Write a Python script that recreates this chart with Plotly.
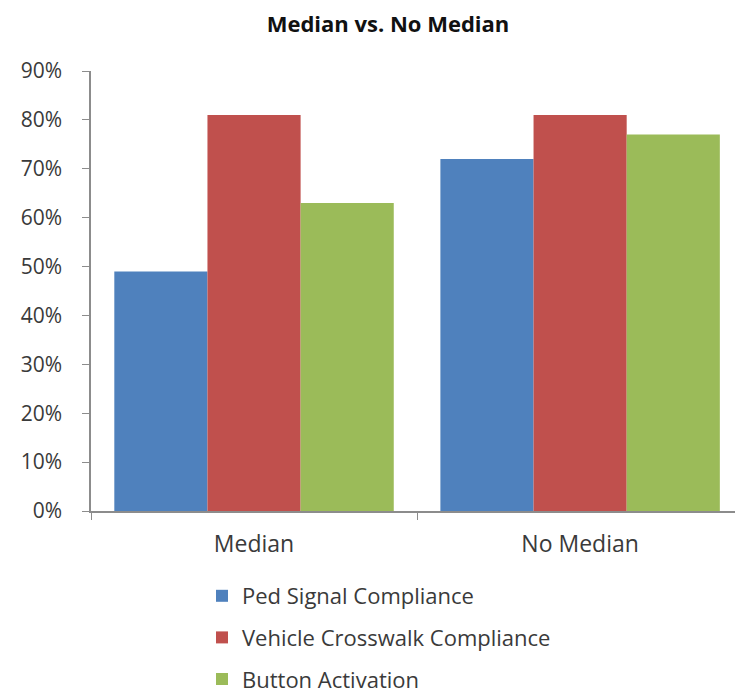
import plotly.graph_objects as go

categories = ["Median", "No Median"]
series_names = ["Ped Signal Compliance", "Vehicle Crosswalk Compliance", "Button Activation"]
ped_signal = [0.49, 0.72]
vehicle_crosswalk = [0.81, 0.81]
button_activation = [0.63, 0.77]
colors = ["#4F81BD", "#C0504D", "#9BBB59"]
y_ticks = [0, 0.1, 0.2, 0.3, 0.4, 0.5, 0.6, 0.7, 0.8, 0.9]

FONT = "Open Sans"
fig = go.Figure()
for i, (name, vals) in enumerate(zip(series_names, [ped_signal, vehicle_crosswalk, button_activation])):
    fig.add_trace(go.Bar(x=categories, y=vals, name=name, marker_color=colors[i],
                         marker_line_width=0, legendgroup=f"g{i}"))

fig.update_layout(
    width=735, height=699,
    margin=dict(l=91, r=0, t=71, b=188, autoexpand=False),
    paper_bgcolor="white", plot_bgcolor="white",
    barmode="group", bargap=0.143, bargroupgap=0,
    font=dict(family=FONT, color="#3a3a3a", size=20),
    title=dict(text="<b>Median vs. No Median</b>", x=388/735, xanchor="center",
               y=1 - 24/699, yanchor="middle", font=dict(size=22, color="#111111")),
    showlegend=True,
    legend=dict(xref="container", yref="container", x=202/735, y=1 - 575/699,
                xanchor="left", yanchor="top", orientation="v", tracegroupgap=10,
                font=dict(size=22, color="#3a3a3a"), itemwidth=30),
    xaxis=dict(range=[-0.5, 1.475], showline=True, linecolor="#8c8c8c", linewidth=1.5,
               ticks="outside", tickson="boundaries", ticklen=7, tickcolor="#8c8c8c",
               tickangle=0, ticklabelstandoff=12,
               tickfont=dict(size=23, color="#3a3a3a"), showgrid=False),
    yaxis=dict(range=[0, 0.9], tickvals=y_ticks, tickformat=".0%", showline=True,
               linecolor="#8c8c8c", linewidth=1.5, ticks="outside", ticklen=7,
               tickcolor="#8c8c8c", showgrid=False, zeroline=False, ticklabelstandoff=16,
               tickfont=dict(size=21, color="#3a3a3a")),
)
fig.write_html("out.html")
